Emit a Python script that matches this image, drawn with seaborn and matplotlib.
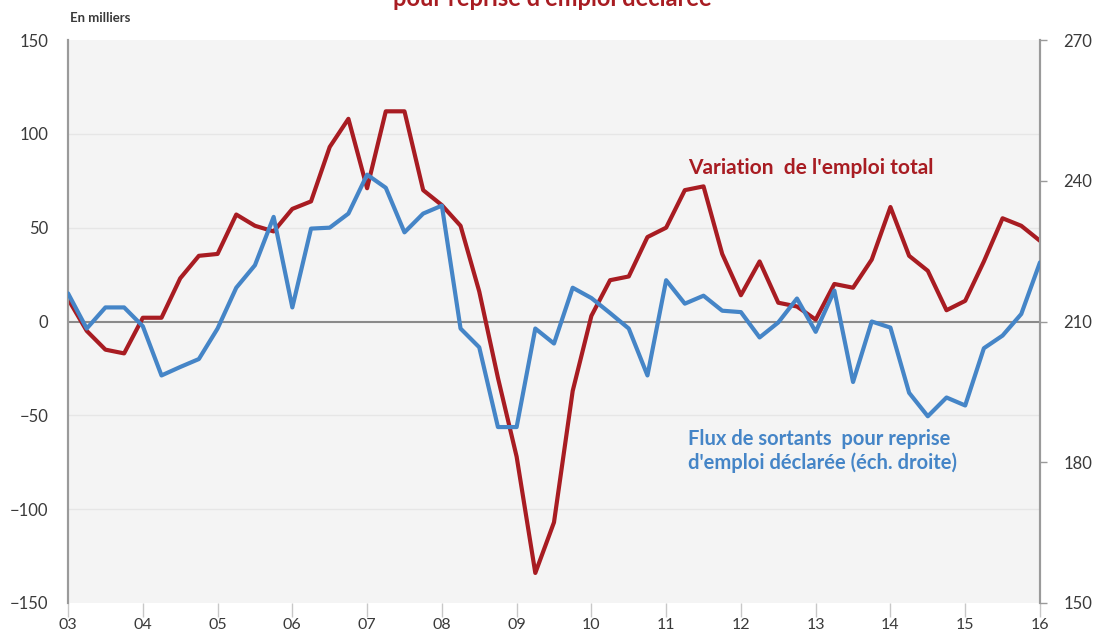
import matplotlib
matplotlib.use("Agg")
import matplotlib.pyplot as plt
import seaborn as sns
import pandas as pd
import numpy as np

# quarterly data, 2003Q1 .. 2016Q1
quarters = [f"{y}T{q}" for y in range(2003, 2017) for q in range(1, 5)][:53]
emploi_total = [12, -5, -15, -17, 2, 2, 23, 35, 36, 57, 51, 48, 60, 64, 93, 108,
                71, 112, 112, 70, 62, 51, 16, -30, -72, -134, -107, -37, 3, 22, 24, 45,
                50, 70, 72, 36, 14, 32, 10, 8, 1, 20, 18, 33, 61, 35, 27, 6,
                11, 32, 55, 51, 43]
flux_sortants = [216, 208.5, 213, 213, 209, 198.5, 200.3, 202, 208.5, 217.2, 222, 232.3,
                 213, 229.8, 230, 233, 241.3, 238.5, 229, 233, 234.7, 208.5, 204.5, 187.5,
                 187.5, 208.5, 205.3, 217.2, 215, 211.8, 208.5, 198.5, 218.8, 213.8, 215.5,
                 212.3, 212, 206.6, 209.8, 214.9, 207.8, 216.6, 197.1, 210, 208.7, 194.8,
                 189.8, 193.8, 192.1, 204.3, 207, 211.6, 222.6]
year_ticks = list(range(2003, 2017))
year_labels = [f"{y % 100:02d}" for y in year_ticks]

df = pd.DataFrame({"trimestre": quarters,
                   "t": [2003 + i / 4 for i in range(len(quarters))],
                   "emploi": emploi_total,
                   "sortants": flux_sortants})

red = "#a81c22"
blue = "#4585c7"
grey_txt = "#3a3a3a"

sns.set_style("white", {"axes.facecolor": "#f4f4f4"})
plt.rcParams["font.family"] = ["Lato", "DejaVu Sans"]

fig = plt.figure(figsize=(10.94, 6.35), dpi=100)
ax = fig.add_axes([0.0622, 0.0504, 0.8884, 0.8866])
ax2 = ax.twinx()

# faint grid + zero line
for v in [-100, -50, 50, 100]:
    ax.axhline(v, color="#e6e6e6", lw=1, zorder=0)
ax.axhline(0, color="#8a8a8a", lw=1.5, zorder=1)

sns.lineplot(data=df, x="t", y="emploi", ax=ax, color=red, lw=3, zorder=3)
sns.lineplot(data=df, x="t", y="sortants", ax=ax2, color=blue, lw=3, zorder=3)

ax.set_xlim(2003, 2016)
ax.set_ylim(-150, 150)
ax2.set_ylim(150, 270)
ax.set_yticks([-150, -100, -50, 0, 50, 100, 150])
ax2.set_yticks([150, 180, 210, 240, 270])
ax.set_xticks(year_ticks)
ax.set_xticklabels(year_labels)
ax.set_xlabel("")
ax.set_ylabel("")
ax2.set_ylabel("")
ax.grid(False)
ax2.grid(False)

for a in (ax, ax2):
    for s in ("top", "bottom"):
        a.spines[s].set_visible(False)
    a.spines["left"].set_color("#9a9a9a")
    a.spines["right"].set_color("#9a9a9a")
    a.spines["left"].set_linewidth(1.5)
    a.spines["right"].set_linewidth(1.5)

ax.tick_params(axis="y", length=0, pad=14, labelsize=12, labelcolor=grey_txt)
ax2.tick_params(axis="y", length=5, width=1, color="#9a9a9a", pad=12,
                labelsize=12, labelcolor=grey_txt)
ax.tick_params(axis="x", length=10, width=1, color="#c8c8c8", pad=1,
               labelsize=11.5, labelcolor=grey_txt, bottom=True)

ax.text(2011.29, 82, "Variation  de l'emploi total", color=red, fontsize=15,
        fontweight="bold", ha="left", va="center")
ax.text(2011.29, -69, "Flux de sortants  pour reprise\nd'emploi déclarée (éch. droite)",
        color=blue, fontsize=14.5, fontweight="bold", ha="left", va="center",
        linespacing=1.2)

fig.text(0.064, 0.972, "En milliers", color=grey_txt, fontsize=9.5,
         fontweight="bold", ha="left", va="center")
fig.text(0.505, 0.991, "pour reprise d'emploi déclarée", color=red, fontsize=17,
         fontweight="bold", ha="center", va="baseline")

fig.savefig("out.png", dpi=100, facecolor="white")
